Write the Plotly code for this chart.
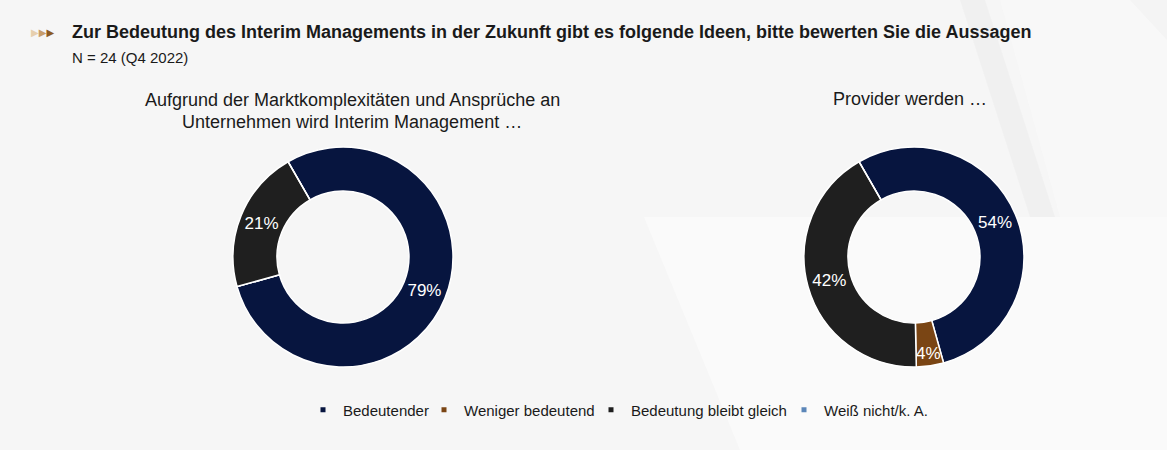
import plotly.graph_objects as go

# ---- data ----
categories = ["Bedeutender", "Weniger bedeutend", "Bedeutung bleibt gleich", "Weiß nicht/k. A."]
left_values = [79, 0, 21, 0]
right_values = [54, 4, 42, 0]
colors = ["#07153f", "#7a4514", "#1f1f1f", "#5b86b8"]

title_main = "Zur Bedeutung des Interim Managements in der Zukunft gibt es folgende Ideen, bitte bewerten Sie die Aussagen"
subtitle = "N = 24 (Q4 2022)"
left_title = ["Aufgrund der Marktkomplexitäten und Ansprüche an", "Unternehmen wird Interim Management …"]
right_title = ["Provider werden …"]

FONT = "Liberation Sans, Arial, sans-serif"
W, H = 1167, 450


def labels_for(vals):
    return [f"{v}%" if v else "" for v in vals]


fig = go.Figure()


def add_pie(vals, cx, cy, r):
    fig.add_trace(go.Pie(
        labels=categories,
        values=vals,
        text=labels_for(vals),
        textinfo="text",
        textposition="inside",
        insidetextorientation="horizontal",
        textfont=dict(family=FONT, size=17, color="white"),
        hole=0.6,
        sort=False,
        direction="clockwise",
        rotation=-30,
        marker=dict(colors=colors, line=dict(color="white", width=1.5)),
        showlegend=False,
        hoverinfo="label+percent",
        domain=dict(x=[(cx - r) / W, (cx + r) / W], y=[1 - (cy + r) / H, 1 - (cy - r) / H]),
    ))


add_pie(left_values, 343, 257, 110)
add_pie(right_values, 914, 257, 110)

# legend via dummy traces (small square markers), one legend box per entry
legend_text_x = [342, 463, 630, 823]
legend_names = ["legend", "legend2", "legend3", "legend4"]
for cat, col, lg in zip(categories, colors, legend_names):
    fig.add_trace(go.Scatter(
        x=[None], y=[None], mode="markers", name=cat,
        marker=dict(symbol="square", size=5, color=col),
        showlegend=True, hoverinfo="skip", legend=lg,
    ))

legend_layout = {}
for lg, tx in zip(legend_names, legend_text_x):
    legend_layout[lg] = dict(
        orientation="h", x=(tx - 39) / W, xanchor="left", y=1 - 410 / H, yanchor="middle",
        font=dict(family=FONT, size=15, color="#1a1a1a"),
        bgcolor="rgba(0,0,0,0)", borderwidth=0, itemwidth=30,
    )

annotations = [
    dict(text="<b>" + title_main + "</b>", x=70 / W, y=1 - 32 / H, xref="paper", yref="paper",
         xanchor="left", yanchor="middle", showarrow=False,
         font=dict(family=FONT, size=18, color="#1a1a1a")),
    dict(text=subtitle, x=70 / W, y=1 - 57 / H, xref="paper", yref="paper",
         xanchor="left", yanchor="middle", showarrow=False,
         font=dict(family=FONT, size=15, color="#1a1a1a")),
    dict(text="<span style='color:#e6cfae'>▶</span><span style='color:#c79d6c'>▶</span><span style='color:#8c5a24'>▶</span>",
         x=29 / W, y=1 - 32 / H, xref="paper", yref="paper",
         xanchor="left", yanchor="middle", showarrow=False,
         font=dict(family="DejaVu Sans", size=10)),
]

for i, line in enumerate(left_title):
    annotations.append(dict(text=line, x=352 / W, y=1 - (100 + 22 * i) / H, xref="paper", yref="paper",
                            xanchor="center", yanchor="middle", showarrow=False,
                            font=dict(family=FONT, size=18, color="#1a1a1a")))
for i, line in enumerate(right_title):
    annotations.append(dict(text=line, x=910 / W, y=1 - (99 + 22 * i) / H, xref="paper", yref="paper",
                            xanchor="center", yanchor="middle", showarrow=False,
                            font=dict(family=FONT, size=18, color="#1a1a1a")))

# faint decorative background facets
def poly(pts, color, opacity=1.0):
    path = "M " + " L ".join(f"{x / W},{1 - y / H}" for x, y in pts) + " Z"
    return dict(type="path", path=path, xref="paper", yref="paper", layer="below",
                fillcolor=color, opacity=opacity, line=dict(width=0))

shapes = [
    poly([(644, 217), (1167, 217), (1167, 450), (740, 450)], "#fafafa"),
    poly([(960, 0), (985, 0), (1055, 217), (1030, 217)], "#eeeeee", 0.7),
    poly([(1130, 0), (1167, 0), (1167, 40)], "#dedede"),
    poly([(1000, 0), (1167, 0), (1167, 217), (1060, 217)], "#f9f9f9", 0.8),
]

fig.update_layout(
    width=W, height=H,
    margin=dict(l=0, r=0, t=0, b=0),
    paper_bgcolor="#f6f6f6",
    plot_bgcolor="rgba(0,0,0,0)",
    xaxis=dict(visible=False),
    yaxis=dict(visible=False),
    uniformtext=dict(minsize=17, mode="show"),
    annotations=annotations,
    shapes=shapes,
    **legend_layout,
)

fig.write_html("out.html")
